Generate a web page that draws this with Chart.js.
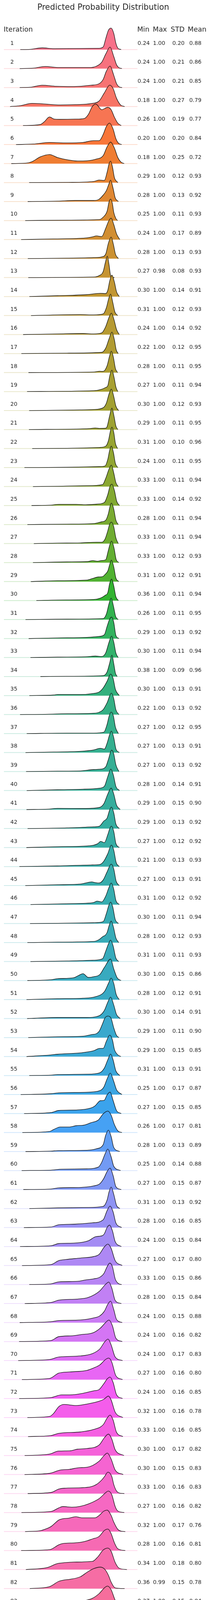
<!DOCTYPE html>
<html><head><meta charset="utf-8">
<script src="https://cdn.jsdelivr.net/npm/chart.js@4.4.1/dist/chart.umd.min.js"></script>
<style>
html,body{margin:0;padding:0;background:#fff;}
#wrap{position:relative;width:537px;height:4222px;overflow:hidden;font-family:'DejaVu Sans',sans-serif;color:#262626;}
#c{position:absolute;left:0;top:0;}
.t{position:absolute;white-space:nowrap;line-height:1.2;transform:translateY(-50%);}
</style></head><body>
<div id="wrap"><canvas id="c" width="537" height="4222"></canvas></div>
<script>
// ---------------- DATA ----------------
const iterations = [1,2,3,4,5,6,7,8,9,10,11,12,13,14,15,16,17,18,19,20,21,22,23,24,25,26,27,28,29,30,31,32,33,34,35,36,37,38,39,40,41,42,43,44,45,46,47,48,49,50,51,52,53,54,55,56,57,58,59,60,61,62,63,64,65,66,67,68,69,70,71,72,73,74,75,76,77,78,79,80,81,82,83,84];
const tableHeaders = ['Min','Max','STD','Mean'];
const minVals = [0.24,0.24,0.24,0.18,0.26,0.20,0.18,0.29,0.28,0.25,0.24,0.28,0.27,0.30,0.31,0.24,0.22,0.28,0.27,0.30,0.29,0.31,0.24,0.33,0.33,0.28,0.33,0.33,0.31,0.36,0.26,0.29,0.30,0.38,0.30,0.22,0.27,0.27,0.27,0.28,0.29,0.29,0.27,0.21,0.27,0.31,0.30,0.28,0.31,0.30,0.28,0.30,0.29,0.29,0.31,0.25,0.27,0.26,0.28,0.25,0.27,0.31,0.28,0.24,0.27,0.33,0.28,0.24,0.24,0.24,0.27,0.24,0.32,0.33,0.30,0.30,0.33,0.27,0.32,0.28,0.34,0.36,0.37,0.32];
const maxVals = [1,1,1,1,1,1,1,1,1,1,1,1,0.98,1,1,1,1,1,1,1,1,1,1,1,1,1,1,1,1,1,1,1,1,1,1,1,1,1,1,1,1,1,1,1,1,1,1,1,1,1,1,1,1,1,1,1,1,1,1,1,1,1,1,1,1,1,1,1,1,1,1,1,1,1,1,1,1,1,1,1,1,0.99,1,1];
const stdVals = [0.20,0.21,0.21,0.27,0.19,0.20,0.25,0.12,0.13,0.11,0.17,0.13,0.08,0.14,0.12,0.14,0.12,0.11,0.11,0.12,0.11,0.10,0.11,0.11,0.14,0.11,0.11,0.12,0.12,0.11,0.11,0.13,0.11,0.09,0.13,0.13,0.12,0.13,0.13,0.14,0.15,0.13,0.12,0.13,0.13,0.12,0.11,0.12,0.11,0.15,0.12,0.14,0.11,0.15,0.13,0.17,0.15,0.17,0.13,0.14,0.15,0.13,0.16,0.15,0.17,0.15,0.15,0.15,0.16,0.17,0.16,0.16,0.16,0.16,0.17,0.15,0.16,0.16,0.17,0.16,0.18,0.15,0.15,0.18];
const meanVals = [0.88,0.86,0.85,0.79,0.77,0.84,0.72,0.93,0.92,0.93,0.89,0.93,0.93,0.91,0.93,0.92,0.95,0.95,0.94,0.93,0.95,0.96,0.95,0.94,0.92,0.94,0.94,0.93,0.91,0.94,0.95,0.92,0.94,0.96,0.91,0.92,0.95,0.91,0.92,0.91,0.90,0.92,0.92,0.93,0.91,0.92,0.94,0.93,0.93,0.86,0.91,0.91,0.90,0.85,0.91,0.87,0.85,0.81,0.89,0.88,0.87,0.92,0.85,0.84,0.80,0.86,0.84,0.88,0.82,0.83,0.80,0.85,0.78,0.85,0.82,0.83,0.83,0.82,0.76,0.81,0.80,0.78,0.84,0.73];
const xTicks = [0.2,0.4,0.6,0.8,1.0];
const xRange = [0.0096,1.23];
// density curve of each iteration: [probability, relative density (peak = 1)]
const ridgeCurves = [
[[0.159,0],[0.25,0.01],[0.359,0.08],[0.467,0.04],[0.70,0.05],[0.878,0.06],[0.916,0.12],[0.939,0.5],[0.964,0.9],[0.989,1],[1.013,0.75],[1.032,0.3],[1.05,0.07],[1.08,0]],
[[0.154,0],[0.28,0.02],[0.389,0.10],[0.5,0.05],[0.805,0.05],[0.854,0.11],[0.903,0.3],[0.94,0.68],[0.979,1],[1.013,0.56],[1.038,0.18],[1.057,0.05],[1.087,0]],
[[0.154,0],[0.26,0.02],[0.359,0.11],[0.487,0.06],[0.636,0.045],[0.805,0.11],[0.879,0.18],[0.916,0.38],[0.945,0.76],[0.979,1],[1.013,0.57],[1.038,0.19],[1.063,0.03],[1.089,0]],
[[0.066,0],[0.157,0.04],[0.267,0.15],[0.365,0.125],[0.524,0.075],[0.66,0.09],[0.805,0.14],[0.879,0.26],[0.927,0.64],[0.976,1],[1.008,0.83],[1.038,0.39],[1.075,0.075],[1.112,0]],
[[0.184,0],[0.341,0.045],[0.377,0.17],[0.426,0.40],[0.469,0.30],[0.52,0.29],[0.66,0.3],[0.744,0.33],[0.781,0.52],[0.817,0.89],[0.849,1],[0.903,0.74],[0.958,0.85],[0.989,0.74],[1.019,0.39],[1.05,0.11],[1.081,0]],
[[0.12,0],[0.279,0.025],[0.426,0.10],[0.585,0.075],[0.732,0.10],[0.829,0.18],[0.879,0.18],[0.916,0.47],[0.945,0.84],[0.974,1],[1.007,0.72],[1.032,0.28],[1.057,0.06],[1.085,0]],
[[0.077,0],[0.218,0.025],[0.267,0.09],[0.341,0.31],[0.426,0.42],[0.5,0.28],[0.585,0.18],[0.683,0.12],[0.769,0.13],[0.854,0.21],[0.916,0.37],[0.952,0.78],[0.984,1],[1.019,0.72],[1.05,0.28],[1.081,0.06],[1.108,0]],
[[0.24,0],[0.6,0.01],[0.829,0.05],[0.879,0.12],[0.927,0.10],[0.952,0.48],[0.97,0.88],[0.984,1],[1.001,0.73],[1.019,0.23],[1.05,0]],
[[0.227,0],[0.5,0.02],[0.659,0.05],[0.829,0.05],[0.879,0.11],[0.916,0.3],[0.945,0.51],[0.967,0.8],[0.984,1],[1.007,0.61],[1.026,0.175],[1.055,0]],
[[0.204,0],[0.6,0.02],[0.879,0.045],[0.916,0.16],[0.952,0.44],[0.97,0.875],[0.984,1],[1.0,0.8],[1.013,0.38],[1.032,0.1],[1.048,0]],
[[0.167,0],[0.463,0.03],[0.756,0.075],[0.817,0.125],[0.856,0.17],[0.903,0.14],[0.939,0.52],[0.967,0.87],[0.989,1],[1.013,0.7],[1.038,0.27],[1.068,0]],
[[0.228,0],[0.585,0.02],[0.829,0.045],[0.903,0.08],[0.939,0.21],[0.964,0.72],[0.989,1],[1.01,0.65],[1.028,0.21],[1.055,0]],
[[0.232,0],[0.829,0.025],[0.879,0.09],[0.916,0.28],[0.937,0.72],[0.954,1],[0.97,0.59],[0.984,0.09],[1.0,0.01],[1.019,0]],
[[0.242,0],[0.5,0.04],[0.769,0.09],[0.891,0.15],[0.939,0.14],[0.958,0.29],[0.976,0.73],[0.996,1],[1.019,0.67],[1.038,0.23],[1.063,0]],
[[0.257,0],[0.707,0.045],[0.829,0.03],[0.916,0.075],[0.945,0.36],[0.967,0.8],[0.984,1],[1.004,0.61],[1.023,0.17],[1.048,0]],
[[0.185,0],[0.5,0.03],[0.732,0.05],[0.829,0.03],[0.903,0.08],[0.939,0.37],[0.97,0.81],[0.991,1],[1.016,0.68],[1.038,0.24],[1.063,0]],
[[0.169,0],[0.585,0.02],[0.903,0.057],[0.939,0.25],[0.97,0.69],[0.996,1],[1.019,0.63],[1.035,0.18],[1.053,0]],
[[0.234,0],[0.829,0.025],[0.885,0.06],[0.916,0.057],[0.952,0.32],[0.974,0.76],[0.991,1],[1.01,0.7],[1.028,0.19],[1.048,0]],
[[0.221,0],[0.829,0.04],[0.891,0.09],[0.939,0.19],[0.958,0.27],[0.978,0.77],[0.996,1],[1.016,0.65],[1.033,0.2],[1.05,0]],
[[0.24,0],[0.707,0.03],[0.829,0.05],[0.916,0.13],[0.945,0.34],[0.97,0.78],[0.991,1],[1.013,0.65],[1.032,0.21],[1.057,0]],
[[0.238,0],[0.707,0.03],[0.794,0.045],[0.845,0.075],[0.879,0.057],[0.939,0.063],[0.952,0.14],[0.976,0.66],[0.996,1],[1.016,0.6],[1.032,0.17],[1.05,0]],
[[0.268,0],[0.585,0.013],[0.879,0.05],[0.939,0.11],[0.964,0.37],[0.982,0.81],[0.996,1],[1.013,0.75],[1.028,0.24],[1.048,0]],
[[0.197,0],[0.585,0.013],[0.879,0.045],[0.933,0.075],[0.958,0.38],[0.976,0.82],[0.991,1],[1.01,0.7],[1.028,0.19],[1.05,0]],
[[0.275,0],[0.5,0.013],[0.769,0.04],[0.91,0.09],[0.939,0.38],[0.97,0.82],[0.991,1],[1.013,0.63],[1.032,0.19],[1.053,0]],
[[0.262,0],[0.438,0.02],[0.511,0.057],[0.67,0.057],[0.756,0.038],[0.866,0.07],[0.927,0.145],[0.958,0.51],[0.978,0.89],[0.996,1],[1.019,0.7],[1.04,0.2],[1.065,0]],
[[0.224,0],[0.585,0.02],[0.829,0.045],[0.903,0.13],[0.939,0.2],[0.964,0.52],[0.978,0.84],[0.991,1],[1.013,0.72],[1.032,0.21],[1.054,0]],
[[0.283,0],[0.5,0.02],[0.707,0.03],[0.854,0.063],[0.903,0.063],[0.933,0.21],[0.958,0.59],[0.975,0.9],[0.991,1],[1.013,0.78],[1.032,0.27],[1.054,0]],
[[0.275,0],[0.585,0.03],[0.769,0.044],[0.823,0.09],[0.86,0.063],[0.903,0.095],[0.939,0.13],[0.962,0.54],[0.978,0.85],[0.993,1],[1.016,0.66],[1.034,0.16],[1.058,0]],
[[0.255,0],[0.5,0.038],[0.769,0.07],[0.817,0.14],[0.873,0.215],[0.91,0.23],[0.933,0.33],[0.958,0.49],[0.976,0.8],[0.991,1],[1.013,0.68],[1.032,0.17],[1.058,0]],
[[0.306,0],[0.5,0.025],[0.829,0.05],[0.891,0.114],[0.933,0.24],[0.958,0.37],[0.976,0.81],[0.993,1],[1.013,0.68],[1.032,0.18],[1.055,0]],
[[0.207,0],[0.585,0.02],[0.916,0.044],[0.945,0.25],[0.97,0.75],[0.989,1],[1.01,0.63],[1.03,0.15],[1.053,0]],
[[0.236,0],[0.5,0.03],[0.769,0.057],[0.879,0.1],[0.927,0.18],[0.952,0.57],[0.974,0.89],[0.993,1],[1.013,0.75],[1.032,0.15],[1.06,0]],
[[0.252,0],[0.5,0.02],[0.769,0.04],[0.845,0.07],[0.903,0.05],[0.939,0.215],[0.97,0.72],[0.993,1],[1.013,0.72],[1.032,0.215],[1.053,0]],
[[0.343,0],[0.585,0.013],[0.916,0.044],[0.952,0.22],[0.974,0.6],[0.996,1],[1.013,0.6],[1.028,0.16],[1.044,0]],
[[0.242,0],[0.463,0.025],[0.5,0.05],[0.707,0.05],[0.829,0.1],[0.879,0.165],[0.916,0.355],[0.952,0.67],[0.984,1],[1.007,0.8],[1.028,0.29],[1.063,0]],
[[0.157,0],[0.341,0.006],[0.585,0.038],[0.829,0.063],[0.879,0.11],[0.916,0.23],[0.952,0.55],[0.991,1],[1.013,0.74],[1.032,0.23],[1.06,0]],
[[0.218,0],[0.585,0.02],[0.829,0.02],[0.922,0.063],[0.952,0.43],[0.97,0.81],[0.989,1],[1.01,0.81],[1.028,0.3],[1.055,0]],
[[0.207,0],[0.463,0.025],[0.707,0.057],[0.829,0.12],[0.891,0.2],[0.927,0.16],[0.952,0.44],[0.974,0.82],[0.991,1],[1.013,0.69],[1.032,0.18],[1.063,0]],
[[0.212,0],[0.5,0.02],[0.707,0.03],[0.829,0.095],[0.885,0.11],[0.939,0.22],[0.964,0.57],[0.993,1],[1.013,0.82],[1.032,0.32],[1.06,0]],
[[0.218,0],[0.5,0.038],[0.732,0.063],[0.879,0.11],[0.927,0.2],[0.958,0.65],[0.986,1],[1.01,0.71],[1.032,0.2],[1.065,0]],
[[0.216,0],[0.414,0.02],[0.5,0.057],[0.756,0.05],[0.879,0.095],[0.922,0.27],[0.958,0.72],[0.989,1],[1.013,0.72],[1.038,0.21],[1.071,0]],
[[0.226,0],[0.585,0.03],[0.829,0.08],[0.881,0.11],[0.922,0.35],[0.952,0.49],[0.974,0.85],[0.991,1],[1.013,0.73],[1.032,0.22],[1.063,0]],
[[0.215,0],[0.5,0.04],[0.769,0.075],[0.829,0.11],[0.866,0.18],[0.894,0.29],[0.927,0.23],[0.958,0.6],[0.976,0.88],[0.991,1],[1.013,0.75],[1.032,0.2],[1.063,0]],
[[0.151,0],[0.5,0.03],[0.805,0.075],[0.885,0.095],[0.922,0.25],[0.958,0.6],[0.991,1],[1.013,0.76],[1.035,0.19],[1.063,0]],
[[0.205,0],[0.5,0.038],[0.707,0.07],[0.756,0.12],[0.811,0.17],[0.842,0.14],[0.879,0.12],[0.916,0.26],[0.952,0.64],[0.989,1],[1.013,0.77],[1.035,0.2],[1.063,0]],
[[0.253,0],[0.5,0.03],[0.732,0.057],[0.829,0.095],[0.86,0.16],[0.903,0.12],[0.939,0.39],[0.967,0.77],[0.989,1],[1.013,0.71],[1.032,0.2],[1.063,0]],
[[0.248,0],[0.5,0.013],[0.829,0.038],[0.916,0.09],[0.945,0.46],[0.967,0.84],[0.984,1],[1.004,0.77],[1.026,0.2],[1.055,0]],
[[0.224,0],[0.5,0.02],[0.829,0.05],[0.879,0.14],[0.916,0.29],[0.933,0.33],[0.952,0.47],[0.97,0.78],[0.989,1],[1.01,0.72],[1.032,0.22],[1.058,0]],
[[0.252,0],[0.585,0.025],[0.829,0.063],[0.91,0.13],[0.939,0.48],[0.964,0.82],[0.984,1],[1.007,0.73],[1.032,0.165],[1.058,0]],
[[0.224,0],[0.438,0.038],[0.5,0.09],[0.646,0.13],[0.689,0.23],[0.732,0.32],[0.781,0.145],[0.829,0.18],[0.885,0.28],[0.927,0.61],[0.984,1],[1.013,0.54],[1.044,0.13],[1.079,0]],
[[0.216,0],[0.5,0.04],[0.732,0.063],[0.854,0.145],[0.927,0.37],[0.964,0.75],[0.989,1],[1.013,0.75],[1.035,0.24],[1.063,0]],
[[0.222,0],[0.5,0.05],[0.769,0.05],[0.879,0.13],[0.927,0.38],[0.958,0.76],[0.984,1],[1.013,0.63],[1.038,0.19],[1.072,0]],
[[0.232,0],[0.5,0.038],[0.732,0.063],[0.817,0.145],[0.854,0.18],[0.879,0.29],[0.91,0.64],[0.933,0.92],[0.961,1],[0.989,0.89],[1.013,0.45],[1.038,0.1],[1.06,0]],
[[0.216,0],[0.438,0.076],[0.5,0.11],[0.707,0.17],[0.829,0.27],[0.885,0.38],[0.916,0.38],[0.945,0.71],[0.976,1],[1.001,0.77],[1.019,0.33],[1.05,0.08],[1.078,0]],
[[0.241,0],[0.438,0.02],[0.5,0.045],[0.769,0.063],[0.885,0.13],[0.927,0.35],[0.958,0.73],[0.984,1],[1.007,0.73],[1.032,0.22],[1.068,0]],
[[0.163,0],[0.438,0.038],[0.511,0.08],[0.769,0.11],[0.885,0.18],[0.922,0.35],[0.952,0.73],[0.981,1],[1.013,0.61],[1.038,0.23],[1.087,0]],
[[0.194,0],[0.438,0.045],[0.511,0.145],[0.683,0.17],[0.805,0.26],[0.842,0.36],[0.891,0.6],[0.924,0.61],[0.952,0.87],[0.979,1],[1.007,0.61],[1.038,0.14],[1.081,0]],
[[0.178,0],[0.426,0.05],[0.463,0.14],[0.524,0.26],[0.604,0.26],[0.67,0.32],[0.744,0.35],[0.805,0.46],[0.873,0.59],[0.916,0.87],[0.959,1],[0.989,0.81],[1.019,0.37],[1.05,0.08],[1.087,0]],
[[0.207,0],[0.438,0.02],[0.511,0.044],[0.769,0.063],[0.854,0.13],[0.916,0.32],[0.939,0.76],[0.964,1],[0.989,0.7],[1.013,0.19],[1.068,0]],
[[0.172,0],[0.438,0.02],[0.536,0.063],[0.769,0.08],[0.873,0.165],[0.903,0.39],[0.933,0.77],[0.959,1],[0.989,0.64],[1.013,0.2],[1.075,0]],
[[0.187,0],[0.438,0.025],[0.511,0.08],[0.707,0.1],[0.829,0.17],[0.885,0.27],[0.922,0.52],[0.952,0.84],[0.979,1],[1.007,0.65],[1.032,0.14],[1.081,0]],
[[0.242,0],[0.5,0.03],[0.769,0.05],[0.916,0.1],[0.952,0.4],[0.97,0.78],[0.989,1],[1.013,0.66],[1.038,0.15],[1.068,0]],
[[0.192,0],[0.438,0.025],[0.511,0.13],[0.659,0.16],[0.817,0.22],[0.916,0.36],[0.952,0.79],[0.979,1],[1.007,0.73],[1.032,0.22],[1.085,0]],
[[0.157,0],[0.438,0.038],[0.511,0.14],[0.659,0.165],[0.781,0.27],[0.848,0.46],[0.91,0.51],[0.927,0.6],[0.952,0.89],[0.974,1],[1.001,0.73],[1.026,0.23],[1.082,0]],
[[0.175,0],[0.438,0.045],[0.511,0.23],[0.573,0.28],[0.707,0.35],[0.829,0.42],[0.879,0.52],[0.927,0.87],[0.959,1],[0.989,0.8],[1.026,0.23],[1.09,0]],
[[0.241,0],[0.438,0.03],[0.511,0.125],[0.683,0.15],[0.756,0.215],[0.829,0.265],[0.885,0.34],[0.922,0.51],[0.952,0.83],[0.976,1],[1.001,0.83],[1.026,0.265],[1.057,0.04],[1.085,0]],
[[0.2,0],[0.438,0.05],[0.511,0.16],[0.683,0.21],[0.781,0.285],[0.879,0.56],[0.939,0.9],[0.967,1],[0.995,0.72],[1.026,0.145],[1.082,0]],
[[0.154,0],[0.438,0.038],[0.511,0.095],[0.707,0.12],[0.829,0.215],[0.885,0.31],[0.927,0.53],[0.958,0.85],[0.984,1],[1.013,0.6],[1.038,0.15],[1.09,0]],
[[0.148,0],[0.438,0.045],[0.511,0.23],[0.634,0.27],[0.707,0.32],[0.829,0.42],[0.891,0.63],[0.939,0.89],[0.969,1],[1.001,0.73],[1.032,0.16],[1.09,0]],
[[0.14,0],[0.426,0.05],[0.511,0.165],[0.707,0.215],[0.817,0.32],[0.885,0.54],[0.933,0.89],[0.961,1],[0.989,0.73],[1.026,0.165],[1.093,0]],
[[0.174,0],[0.426,0.05],[0.511,0.3],[0.61,0.355],[0.769,0.43],[0.829,0.54],[0.885,0.68],[0.939,0.94],[0.967,1],[0.995,0.81],[1.032,0.18],[1.093,0]],
[[0.149,0],[0.438,0.045],[0.536,0.17],[0.61,0.17],[0.732,0.245],[0.829,0.36],[0.879,0.42],[0.922,0.69],[0.952,0.91],[0.979,1],[1.007,0.75],[1.038,0.18],[1.093,0]],
[[0.224,0],[0.426,0.05],[0.463,0.19],[0.511,0.51],[0.56,0.61],[0.67,0.56],[0.769,0.63],[0.879,0.76],[0.922,0.85],[0.964,1],[0.989,0.82],[1.026,0.25],[1.096,0]],
[[0.23,0],[0.438,0.045],[0.511,0.15],[0.707,0.215],[0.829,0.33],[0.916,0.55],[0.952,0.86],[0.979,1],[1.007,0.77],[1.038,0.2],[1.096,0]],
[[0.199,0],[0.426,0.07],[0.511,0.21],[0.61,0.22],[0.683,0.3],[0.769,0.33],[0.879,0.49],[0.927,0.83],[0.964,1],[0.995,0.77],[1.026,0.27],[1.106,0]],
[[0.198,0],[0.426,0.057],[0.524,0.21],[0.61,0.245],[0.695,0.32],[0.769,0.34],[0.879,0.62],[0.927,0.9],[0.954,1],[0.989,0.72],[1.026,0.21],[1.099,0]],
[[0.227,0],[0.439,0.05],[0.512,0.21],[0.561,0.25],[0.708,0.27],[0.806,0.32],[0.854,0.42],[0.904,0.64],[0.928,0.79],[0.96,1],[0.995,0.79],[1.013,0.42],[1.038,0.12],[1.075,0.01],[1.109,0]],
[[0.17,0],[0.439,0.05],[0.512,0.22],[0.549,0.28],[0.634,0.25],[0.708,0.29],[0.781,0.4],[0.879,0.65],[0.94,0.93],[0.962,1],[0.995,0.83],[1.026,0.28],[1.05,0.07],[1.109,0]],
[[0.203,0],[0.341,0.04],[0.402,0.14],[0.439,0.23],[0.512,0.54],[0.549,0.6],[0.598,0.62],[0.665,0.69],[0.72,0.64],[0.842,0.64],[0.879,0.75],[0.922,0.95],[0.952,1],[0.989,0.75],[1.013,0.44],[1.05,0.1],[1.088,0.01],[1.118,0]],
[[0.167,0],[0.426,0.04],[0.512,0.27],[0.549,0.33],[0.659,0.36],[0.745,0.42],[0.818,0.54],[0.879,0.66],[0.928,0.94],[0.959,1],[0.989,0.79],[1.019,0.36],[1.05,0.085],[1.118,0]],
[[0.21,0],[0.402,0.09],[0.5,0.28],[0.561,0.32],[0.647,0.35],[0.818,0.38],[0.867,0.59],[0.916,0.91],[0.959,1],[0.989,0.85],[1.026,0.33],[1.063,0.06],[1.133,0]],
[[0.246,0],[0.426,0.09],[0.512,0.34],[0.561,0.4],[0.61,0.43],[0.708,0.55],[0.769,0.76],[0.83,0.93],[0.891,1],[0.934,0.88],[0.965,0.61],[0.989,0.3],[1.026,0.03],[1.112,0]],
[[0.241,0],[0.439,0.07],[0.512,0.17],[0.561,0.21],[0.647,0.22],[0.732,0.31],[0.818,0.43],[0.879,0.65],[0.928,0.92],[0.955,1],[0.989,0.83],[1.026,0.34],[1.063,0.07],[1.133,0]],
[[0.146,0],[0.271,0.07],[0.331,0.15],[0.403,0.26],[0.45,0.44],[0.521,0.77],[0.569,0.96],[0.611,1],[0.664,0.87],[0.724,0.68],[0.784,0.63],[0.855,0.8],[0.944,0.95],[0.986,0.77],[1.034,0.41],[1.081,0.13],[1.129,0.02],[1.179,0]]
];

// ---------------- COLOURS (seaborn husl palette) ----------------
const HM = [[3.2406,-1.5372,-0.4986],[-0.9689,1.8758,0.0415],[0.0557,-0.2040,1.0570]];
function maxChroma(L, H) {
  const hr = H * Math.PI / 180, sinH = Math.sin(hr), cosH = Math.cos(hr);
  const sub1 = Math.pow(L + 16, 3) / 1560896;
  const sub2 = sub1 > 0.008856 ? sub1 : L / 903.3;
  let res = Infinity;
  for (const [m1, m2, m3] of HM) {
    const top = (0.99915*m1 + 1.05122*m2 + 1.14460*m3) * sub2;
    const rb = 0.86330*m3 - 0.17266*m2, lb = 0.12949*m3 - 0.38848*m1;
    const bottom = (rb*sinH + lb*cosH) * sub2;
    for (const t of [0, 1]) {
      const C = L * (top - 1.05122*t) / (bottom + 0.17266*sinH*t);
      if (C > 0 && C < res) res = C;
    }
  }
  return res;
}
function huslToRgb(H, S, L) {
  const C = maxChroma(L, H) / 100 * S;
  const hr = H * Math.PI / 180;
  const U = Math.cos(hr) * C, V = Math.sin(hr) * C;
  const t = (L + 16) / 116;
  const Y = Math.pow(t, 3) > 0.008856 ? Math.pow(t, 3) : (116*t - 16) / 903.3;
  const vU = U / (13*L) + 0.19784, vV = V / (13*L) + 0.46834;
  const X = -(9*Y*vU) / ((vU - 4)*vV - vU*vV);
  const Z = (9*Y - 15*vV*Y - vV*X) / (3*vV);
  return HM.map(r => {
    const c = r[0]*X + r[1]*Y + r[2]*Z;
    const v = c <= 0.0031308 ? 12.92*c : 1.055*Math.pow(c, 1/2.4) - 0.055;
    return Math.round(Math.min(1, Math.max(0, v)) * 255);
  });
}
function huslPalette(n) {
  const out = [];
  for (let i = 0; i < n; i++) {
    const h = ((i / n + 0.01) % 1) * 359;
    out.push(huslToRgb(h, 0.9 * 99, 0.65 * 99));
  }
  return out;
}

// ---------------- CHART ----------------
const FONT = "'DejaVu Sans', sans-serif";
const TEXT = '#262626';
const RIDGE_HEIGHT = 1.13;
const palette = huslPalette(iterations.length);
const nRows = iterations.length;
const datasets = [];
ridgeCurves.forEach((pts, i) => {
  const base = nRows - iterations[i];
  const [r, g, b] = palette[i];
  datasets.push({
    data: pts.map(p => ({x: p[0], y: base + p[1] * RIDGE_HEIGHT})),
    borderColor: '#111111', borderWidth: 1.3,
    backgroundColor: `rgb(${r},${g},${b})`,
    fill: {value: base},
    cubicInterpolationMode: 'monotone',
    pointRadius: 0, order: base * 2
  });
  datasets.push({
    data: xRange.map(x => ({x: x, y: base})),
    borderColor: `rgba(${r},${g},${b},0.25)`, borderWidth: 2,
    fill: false, pointRadius: 0, order: base * 2 + 1
  });
});

const chart = new Chart(document.getElementById('c'), {
  type: 'line',
  data: {datasets},
  options: {
    responsive: false, animation: false,
    layout: {padding: {left: 10, right: 185.3, top: 66.1, bottom: 11.84}},
    plugins: {legend: {display: false}, tooltip: {enabled: false}},
    scales: {
      x: {
        type: 'linear', min: xRange[0], max: xRange[1],
        afterBuildTicks: s => { s.ticks = xTicks.map(v => ({value: v})); },
        ticks: {color: TEXT, font: {family: FONT, size: 14, lineHeight: 1.2}, padding: 6.1,
                maxRotation: 0, autoSkip: false, callback: v => Number(v).toFixed(1)},
        grid: {display: false, drawTicks: false},
        border: {display: false},
        title: {display: true, text: 'probability', color: TEXT,
                font: {family: FONT, size: 16.8, lineHeight: 0.733}, padding: {top: 0, bottom: 0}}
      },
      y: {display: false, min: -0.1, max: 84.25}
    }
  }
});

// ---------------- TEXT ----------------
const wrap = document.getElementById('wrap');
function addText(txt, x, y, size, center) {
  const d = document.createElement('div');
  d.className = 't';
  d.textContent = txt;
  d.style.left = x + 'px';
  d.style.top = y + 'px';
  d.style.fontSize = size + 'px';
  if (center) d.style.transform = 'translate(-50%,-50%)';
  wrap.appendChild(d);
}
addText('Predicted Probability Distribution', 264, 17.8, 20.5, true);
addText('Iteration', 9.6, 74.7, 17.5);
const headerX = [351.0, 390.8, 436.6, 480.1];
tableHeaders.forEach((h, k) => addText(h, headerX[k], 74.7, 17.5));
const colX = [351.8, 391.2, 440.8, 484.1];
const cols = [minVals, maxVals, stdVals, meanVals];
const yScale = chart.scales.y;
iterations.forEach((it, i) => {
  const yc = yScale.getPixelForValue(nRows - it) - 17.2;
  addText(String(it), 26.6, yc, 14);
  cols.forEach((arr, k) => addText(arr[i].toFixed(2), colX[k], yc, 14));
});
</script></body></html>
